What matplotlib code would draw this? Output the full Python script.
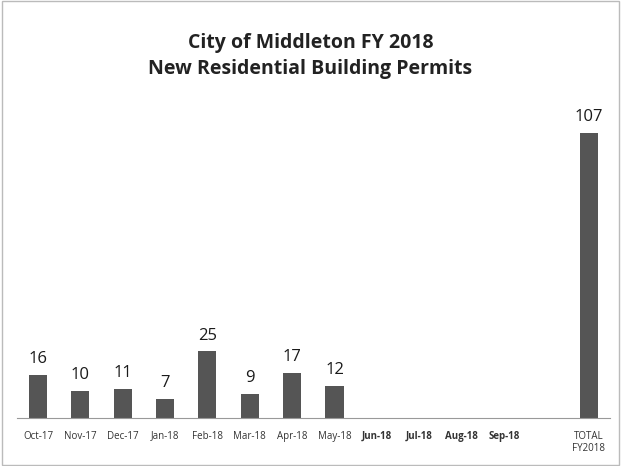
import matplotlib.pyplot as plt
import numpy as np

plt.rcParams['font.family'] = ['Open Sans', 'DejaVu Sans']

months = ["Oct-17", "Nov-17", "Dec-17", "Jan-18", "Feb-18", "Mar-18",
          "Apr-18", "May-18", "Jun-18", "Jul-18", "Aug-18", "Sep-18"]
permits = [16, 10, 11, 7, 25, 9, 17, 12, 0, 0, 0, 0]
total_label = "TOTAL\nFY2018"
total = 107

x = np.arange(len(months))
x_total = len(months) + 1

fig = plt.figure(figsize=(6.21, 4.66), dpi=100)
ax = fig.add_axes([0.027, 0.103, 0.955, 0.685])

bar_color = "#555555"
ax.bar(x, permits, width=0.43, color=bar_color)
ax.bar([x_total], [total], width=0.43, color=bar_color)

# value labels only for months with data
for xi, v in zip(x, permits):
    if v > 0:
        ax.text(xi, v + 3, str(v), ha="center", va="bottom",
                fontsize=12, color="#1a1a1a", fontweight="medium")
ax.text(x_total, total + 3, str(total), ha="center", va="bottom",
        fontsize=12, color="#1a1a1a", fontweight="medium")

ax.set_xlim(-0.5, 13.5)
ax.set_ylim(0, 120)
ax.set_xticks(list(x) + [x_total])
ax.set_xticklabels(months + [total_label], fontsize=7, color="#333333")
for lbl in ax.get_xticklabels()[8:12]:
    lbl.set_fontweight("bold")
ax.tick_params(axis="x", length=0, pad=9)
ax.set_yticks([])
for s in ["top", "right", "left"]:
    ax.spines[s].set_visible(False)
ax.spines["bottom"].set_color("#999999")

fig.text(0.5, 0.88, "City of Middleton FY 2018\nNew Residential Building Permits",
         ha="center", va="center", fontsize=14, fontweight="bold",
         color="#222222", linespacing=1.35)

# thin frame around the chart
frame = plt.Rectangle((0.003, 0.003), 0.994, 0.994, transform=fig.transFigure,
                      fill=False, edgecolor="#bbbbbb", linewidth=1)
fig.patches.append(frame)

fig.savefig("out.png", dpi=100)
